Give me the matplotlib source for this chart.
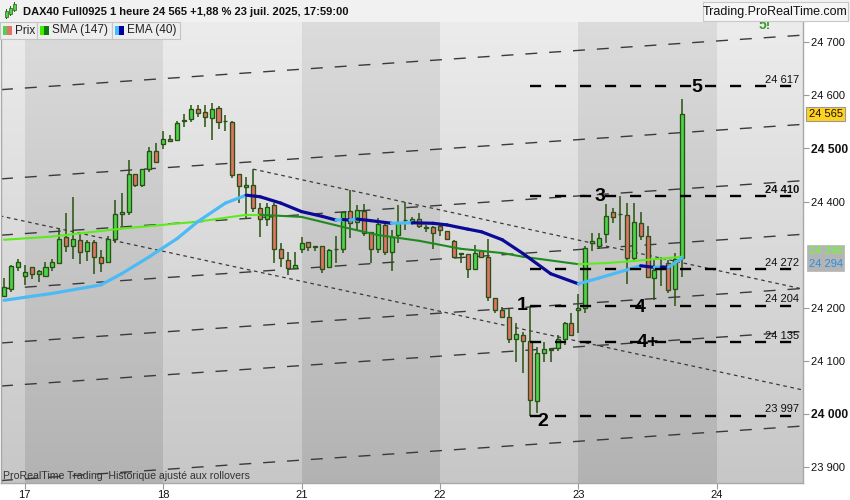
import numpy as np
import matplotlib.pyplot as plt
from matplotlib.patches import Rectangle
from matplotlib.collections import LineCollection

plt.rcParams['font.family'] = ['Liberation Sans', 'DejaVu Sans']
plt.rcParams['lines.scale_dashes'] = False

# hourly bars, index 0 = 16 juil. evening
day_pos = [3, 23, 43, 63, 83, 103]
day_labels = ["17", "18", "21", "22", "23", "24"]

opens = [24222, 24235, 24277, 24260, 24276, 24263, 24260, 24276, 24284, 24333,
         24316, 24328, 24306, 24324, 24295, 24287, 24330, 24376, 24381, 24452,
         24431, 24461, 24495, 24508, 24517, 24515, 24552, 24555, 24574, 24568,
         24557, 24576, 24551, 24550, 24451, 24428, 24431, 24387, 24368, 24394,
         24311, 24290, 24274, 24310, 24323, 24315, 24317, 24276, 24311, 24310,
         24382, 24362, 24382, 24343, 24310, 24356, 24305, 24337, 24365, 24362,
         24368, 24351, 24352, 24354, 24344, 24326, 24302, 24301, 24272, 24306,
         24295, 24218, 24196, 24183, 24141, 24149, 24138, 24025, 24114, 24121,
         24124, 24141, 24171, 24196, 24199, 24321, 24317, 24339, 24381, 24376,
         24375, 24293, 24360, 24335, 24256, 24272, 24285, 24235, 24293]
highs = [24256, 24280, 24292, 24281, 24276, 24271, 24286, 24292, 24350, 24379,
         24409, 24341, 24328, 24328, 24309, 24335, 24403, 24416, 24478, 24452,
         24462, 24502, 24510, 24532, 24525, 24552, 24565, 24582, 24582, 24582,
         24585, 24579, 24563, 24552, 24451, 24446, 24461, 24397, 24398, 24397,
         24321, 24305, 24305, 24334, 24323, 24316, 24317, 24310, 24335, 24380,
         24422, 24394, 24395, 24343, 24369, 24359, 24346, 24394, 24399, 24371,
         24378, 24356, 24354, 24359, 24344, 24328, 24303, 24301, 24318, 24309,
         24329, 24218, 24202, 24199, 24172, 24155, 24204, 24127, 24135, 24124,
         24149, 24174, 24190, 24226, 24316, 24340, 24340, 24395, 24387, 24410,
         24398, 24398, 24381, 24353, 24292, 24296, 24290, 24303, 24593]
lows = [24220, 24230, 24269, 24243, 24254, 24249, 24260, 24269, 24284, 24304,
        24292, 24282, 24288, 24263, 24268, 24287, 24322, 24353, 24375, 24428,
        24427, 24456, 24475, 24499, 24512, 24515, 24541, 24549, 24560, 24540,
        24515, 24536, 24532, 24444, 24398, 24368, 24381, 24334, 24353, 24284,
        24277, 24261, 24274, 24303, 24306, 24307, 24266, 24276, 24285, 24303,
        24331, 24345, 24335, 24285, 24303, 24299, 24270, 24321, 24346, 24356,
        24350, 24343, 24310, 24336, 24328, 24295, 24284, 24256, 24271, 24295,
        24213, 24190, 24180, 24134, 24098, 24078, 23997, 24001, 24097, 24097,
        24119, 24130, 24149, 24152, 24190, 24306, 24310, 24322, 24359, 24328,
        24245, 24287, 24328, 24256, 24214, 24240, 24227, 24204, 24258]
closes = [24239, 24279, 24286, 24267, 24263, 24270, 24276, 24286, 24330, 24316,
          24329, 24304, 24324, 24296, 24285, 24330, 24376, 24380, 24452, 24432,
          24462, 24495, 24475, 24517, 24514, 24547, 24554, 24574, 24566, 24559,
          24574, 24549, 24551, 24449, 24430, 24432, 24387, 24368, 24390, 24310,
          24293, 24274, 24280, 24321, 24314, 24315, 24272, 24309, 24311, 24380,
          24359, 24384, 24341, 24311, 24358, 24304, 24334, 24359, 24365, 24368,
          24354, 24351, 24340, 24346, 24330, 24295, 24302, 24272, 24303, 24296,
          24220, 24196, 24183, 24141, 24151, 24138, 24026, 24115, 24122, 24121,
          24141, 24171, 24149, 24199, 24312, 24326, 24331, 24372, 24370, 24376,
          24293, 24362, 24335, 24258, 24271, 24274, 24234, 24292, 24565]

sma_idx = [0, 7, 17, 28, 35, 37, 43, 49, 54, 60, 66, 72, 75, 83, 87, 91, 98]
sma_val = [24328, 24334, 24349, 24362, 24375, 24375, 24371, 24352, 24337, 24326,
           24311, 24303, 24296, 24282, 24284, 24288, 24296]
ema_idx = [0, 7, 14, 17, 21, 25, 28, 32, 35, 37, 40, 43, 46, 48, 49, 50, 51, 53,
           56, 59, 62, 64, 67, 69, 72, 75, 79, 83, 86, 92, 94, 95, 96, 98]
ema_val = [24214, 24227, 24243, 24264, 24296, 24330, 24362, 24397, 24412, 24409,
           24397, 24381, 24372, 24365, 24366, 24365, 24367, 24364, 24359, 24360,
           24359, 24356, 24348, 24343, 24328, 24302, 24264, 24245, 24256, 24279,
           24276, 24277, 24276, 24294]
last_price = 24565

levels = [24617, 24410, 24272, 24204, 24135, 23997]
level_bold = [False, True, False, False, False, False]
level_from = 76

wave_text = ["1", "2", "3", "4", "4+", "5"]
wave_x = [74.9, 77.9, 86.1, 92.0, 93.0, 100.1]
wave_y = [24204, 23986, 24409, 24201, 24134, 24614]

# parallel channel lines: price at bar 0, slope per bar
channel_at0 = [24611, 24443, 24337, 24236, 24134, 24053, 23875]
channel_slope = 0.886
# dotted trend lines (x0, y0, x1, y1)
trend_lines = [(-0.6, 24373, 115.5, 24045), (36, 24461, 115.5, 24235)]

xmin, xmax = -0.43, 115.46
ymin, ymax = 23870, 24738

fig = plt.figure(figsize=(8.5, 5), dpi=100, facecolor='white')
ax = fig.add_axes([1 / 850, 17 / 500, 802 / 850, 461 / 500])

# day bands with vertical gradient
edges = [xmin] + day_pos + [xmax]
grad = np.linspace(0, 1, 200)[:, None]
for i in range(len(edges) - 1):
    top, bot = (0.925, 0.78) if i % 2 == 0 else (0.86, 0.70)
    g = top + (bot - top) * grad
    ax.imshow(np.dstack([g, g, g]), extent=(edges[i], edges[i + 1], ymin, ymax),
              aspect='auto', origin='upper', zorder=0, interpolation='bilinear')

xs = np.array([xmin, xmax])
for p0 in channel_at0:
    ax.plot(xs, p0 + channel_slope * xs, color='#3a3a3a', lw=1.0,
            linestyle=(0, (8.6, 8.6)), zorder=1)
for x0, y0, x1, y1 in trend_lines:
    ax.plot([x0, x1], [y0, y1], color='#3a3a3a', lw=0.9,
            linestyle=(0, (2.6, 2.6)), zorder=1)

# candles
idx = np.arange(len(opens))
o = np.array(opens)
c = np.array(closes)
ax.vlines(idx, lows, highs, color='#27520f', lw=1.1, zorder=3)
up = c >= o
cols = np.where(up, '#4fd24f', '#e4706a')
ax.bar(idx, np.maximum(np.abs(c - o), 0.5), bottom=np.minimum(o, c), width=0.58,
       color=cols, edgecolor='#27520f', linewidth=0.95, zorder=3.5)


def ma_line(xv, yv, rise_col, fall_col, lw):
    pts = np.column_stack([xv, yv])
    segs = np.stack([pts[:-1], pts[1:]], axis=1)
    colors = [rise_col if b >= a else fall_col for a, b in zip(yv[:-1], yv[1:])]
    ax.add_collection(LineCollection(segs, colors=colors, linewidths=lw,
                                     capstyle='round', joinstyle='round', zorder=4))


ma_line(sma_idx, sma_val, '#5bec1c', '#1f8a1f', 1.5)
ma_line(ema_idx, ema_val, '#4cbaf5', '#0a0a96', 2.3)

for lv, bold in zip(levels, level_bold):
    ax.plot([level_from, xmax], [lv, lv], color='black', lw=1.7,
            linestyle=(0, (8, 10)), zorder=5)
    ax.text(114.9, lv + 3, f"{lv:,}".replace(",", " "), ha='right', va='bottom',
            fontsize=8, color='#111111', fontweight='bold' if bold else 'normal', zorder=6)

for t, x, y in zip(wave_text, wave_x, wave_y):
    ax.text(x, y, t, ha='center', va='center', fontsize=14, fontweight='bold',
            color='black', zorder=6)

ax.text(110, 24733, "5!", ha='center', va='center', fontsize=10, fontweight='bold',
        color='#3a9a2a', clip_on=True, zorder=6)
ax.text(0.002, 0.016, "ProRealTime Trading  Historique ajusté aux rollovers",
        transform=ax.transAxes, ha='left', va='center', fontsize=7.6, color='#333333', zorder=6)

ax.set_xlim(xmin, xmax)
ax.set_ylim(ymin, ymax)

ax.set_xticks(day_pos)
ax.set_xticklabels(day_labels)
yt = [23900, 24000, 24100, 24200, 24400, 24500, 24600, 24700]
ax.set_yticks(yt)
ax.set_yticklabels([f"{v:,}".replace(",", " ") for v in yt])
ax.yaxis.tick_right()
ax.tick_params(axis='y', length=4, color='#999999', pad=2, labelsize=8, labelcolor='#111111')
ax.tick_params(axis='x', length=4, color='#999999', pad=1, labelsize=8, labelcolor='#111111')
for lab, v in zip(ax.get_yticklabels(), yt):
    if v in (24000, 24500):
        lab.set_fontweight('bold')
        lab.set_fontsize(8.7)
ax.spines['top'].set_visible(False)
for side in ['left', 'right', 'bottom']:
    ax.spines[side].set_color('#a8a8a8')
    ax.spines[side].set_linewidth(1.0)

ax.annotate(f"{last_price:,}".replace(",", " "), xy=(1, last_price),
            xycoords=('axes fraction', 'data'), xytext=(4, 0), textcoords='offset points',
            ha='left', va='center', fontsize=8, color='#111111', zorder=7,
            bbox=dict(boxstyle='square,pad=0.2', fc='#ffd21f', ec='#999999', lw=0.8))
ax.annotate(f"{sma_val[-1]:,}".replace(",", " "), xy=(1, sma_val[-1]),
            xycoords=('axes fraction', 'data'), xytext=(4, 3.9), textcoords='offset points',
            ha='left', va='center', fontsize=8, color='#6cff2a', zorder=7,
            bbox=dict(boxstyle='square,pad=0.15', fc='#b4b4b4', ec='#b4b4b4', lw=0.5))
ax.annotate(f"{ema_val[-1]:,}".replace(",", " "), xy=(1, ema_val[-1]),
            xycoords=('axes fraction', 'data'), xytext=(4, -4.8), textcoords='offset points',
            ha='left', va='center', fontsize=8, color='#2a8fe0', zorder=7,
            bbox=dict(boxstyle='square,pad=0.15', fc='#b4b4b4', ec='#b4b4b4', lw=0.5))


# header and legend tabs, drawn in pixel units of the 850x500 figure
def px_rect(x0, y0, x1, y1, fc, ec='none', lw=0.0, z=10):
    fig.patches.append(Rectangle((x0 / 850, 1 - y1 / 500), (x1 - x0) / 850, (y1 - y0) / 500,
                                 transform=fig.transFigure, facecolor=fc, edgecolor=ec,
                                 linewidth=lw, zorder=z))


def px_text(x, y, s, **kw):
    fig.text(x / 850, 1 - y / 500, s, va='center', zorder=12, **kw)


px_rect(0, 0, 850, 22, '#f1f1f1')
px_rect(703, 2, 848, 21, '#f6f6f6', ec='#c8c8c8', lw=0.8, z=11)
for cx, top, bot in [(6, 11, 17), (10, 8, 14), (14, 4, 10)]:
    px_rect(cx, top - 2, cx + 0.8, bot + 2, '#2b5a12', z=11)
    px_rect(cx - 1.5, top, cx + 2.3, bot, '#4fd24f', ec='#2b5a12', lw=0.5, z=11.5)
px_text(23, 12, "DAX40 Full0925 1 heure 24 565 +1,88 % 23 juil. 2025, 17:59:00",
        fontsize=8, fontweight='bold', color='#111111')
px_text(775.5, 12, "Trading.ProRealTime.com", fontsize=9, color='#111111', ha='center')

tabs = [(0, 37, "Prix", '#4fd24f', '#e4706a'),
        (37, 112, "SMA (147)", '#3df000', '#117711'),
        (112, 180, "EMA (40)", '#44bbff', '#000099')]
for x0, x1, name, c1, c2 in tabs:
    px_rect(x0, 22, x1, 38.5, '#eeeeee', ec='#c4c4c4', lw=0.8)
    px_rect(x0 + 2.7, 26, x0 + 6.7, 35, c1, z=11)
    px_rect(x0 + 6.7, 26, x0 + 11.7, 35, c2, z=11)
    px_text(x0 + 15, 30.5, name, fontsize=8.5, color='#222222')

fig.savefig("out.png", dpi=100, facecolor='white')
